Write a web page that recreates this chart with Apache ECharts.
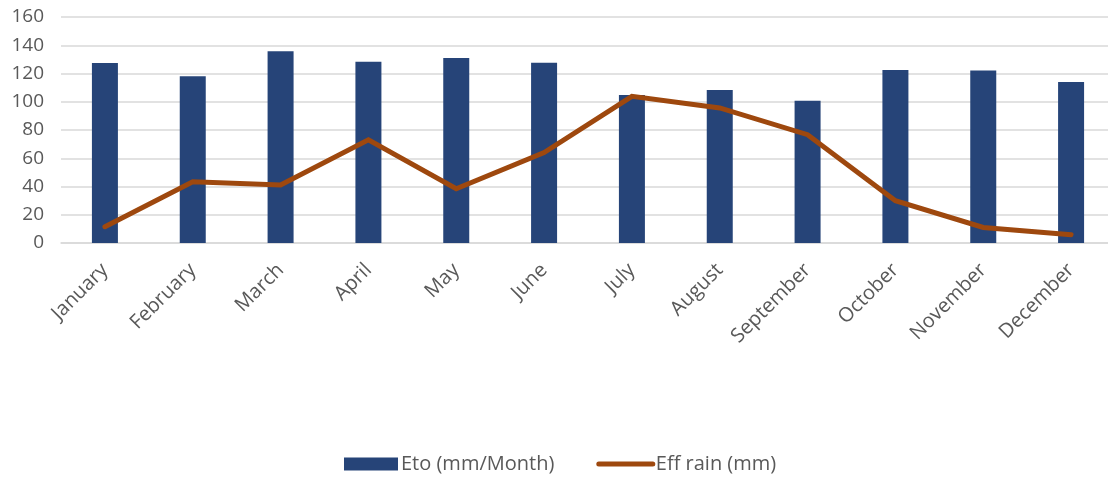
<!DOCTYPE html>
<html>
<head>
<meta charset="utf-8">
<script src="https://cdn.jsdelivr.net/npm/echarts@6/dist/echarts.min.js"></script>
<style>
  html, body { margin: 0; padding: 0; background: #fff; }
  #chart { width: 1108px; height: 479px; }
</style>
</head>
<body>
<div id="chart"></div>
<script>
// Monthly reference evapotranspiration vs effective rainfall
const months = ['January', 'February', 'March', 'April', 'May', 'June',
  'July', 'August', 'September', 'October', 'November', 'December'];
const etoValues = [127.4, 118, 135.7, 128.4, 131, 127.6, 104.8, 108.3, 100.7, 122.5, 122.2, 114];
const effRainValues = [11.5, 43.4, 41, 73.1, 38.4, 64, 103.8, 95.6, 76.7, 30, 11, 5.9];
const yTicks = { min: 0, max: 160, interval: 20 };

const FONT = '"Open Sans", "DejaVu Sans", sans-serif';
const TEXT_COLOR = '#595959';
const RAIN_COLOR = '#9e480e';
const chart = echarts.init(document.getElementById('chart'), null, { renderer: 'canvas' });

chart.setOption({
  animation: false,
  backgroundColor: '#ffffff',
  textStyle: { fontFamily: FONT },
  // the plot runs past the right edge of the canvas, so size it by width
  grid: {
    left: 61, width: 1054, top: 17, bottom: 236,
    containLabel: false,
    outerBoundsMode: 'none'
  },
  legend: {
    bottom: 0,
    left: 339,
    itemWidth: 54,
    itemHeight: 13,
    itemGap: 42,
    textStyle: { fontFamily: FONT, fontSize: 20, color: TEXT_COLOR, padding: [0, 0, 0, -2] },
    data: [
      { name: 'Eto (mm/Month)', icon: 'rect' },
      // plain rounded stroke for the rain line, no marker dot
      {
        name: 'Eff rain (mm)',
        itemStyle: { opacity: 0 },
        lineStyle: { width: 5, color: RAIN_COLOR, cap: 'round' }
      }
    ]
  },
  xAxis: {
    type: 'category',
    data: months,
    boundaryGap: true,
    axisLine: { show: true, lineStyle: { color: '#d9d9d9', width: 1.5 } },
    axisTick: { show: false },
    axisLabel: {
      rotate: 45,
      interval: 0,
      margin: 24,
      fontFamily: FONT,
      fontSize: 20,
      color: TEXT_COLOR
    }
  },
  yAxis: {
    type: 'value',
    min: yTicks.min,
    max: yTicks.max,
    interval: yTicks.interval,
    axisLine: { show: false },
    axisTick: { show: false },
    splitLine: { lineStyle: { color: '#d9d9d9', width: 1.5 } },
    axisLabel: { margin: 17, fontFamily: FONT, fontSize: 19, color: TEXT_COLOR }
  },
  series: [
    {
      name: 'Eto (mm/Month)',
      type: 'bar',
      data: etoValues,
      barWidth: 26,
      itemStyle: { color: '#264478' }
    },
    {
      name: 'Eff rain (mm)',
      type: 'line',
      data: effRainValues,
      symbol: 'none',
      lineStyle: { color: RAIN_COLOR, width: 5, cap: 'round', join: 'miter' },
      itemStyle: { color: RAIN_COLOR },
      z: 3
    }
  ]
});
</script>
</body>
</html>
